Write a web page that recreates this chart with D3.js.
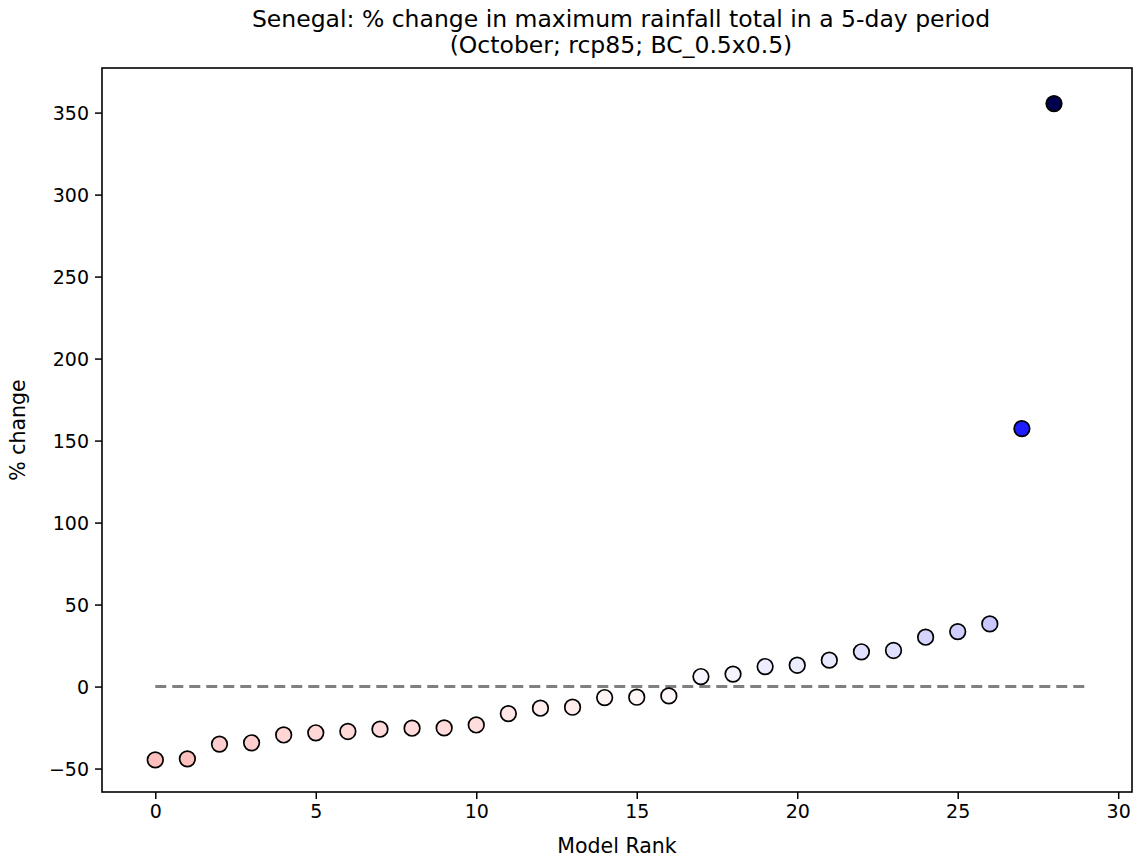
<!DOCTYPE html>
<html>
<head>
<meta charset="utf-8">
<script src="https://cdn.jsdelivr.net/npm/d3@7"></script>
<style>
body{margin:0;background:#fff;}
text{font-family:"DejaVu Sans",sans-serif;fill:#000;}
</style>
</head>
<body>
<svg id="chart" width="1135" height="861"></svg>
<script>
const titleLines = ["Senegal: % change in maximum rainfall total in a 5-day period", "(October; rcp85; BC_0.5x0.5)"];
const xLabel = "Model Rank";
const yLabel = "% change";
const ranks = d3.range(29);
const values = [-44.7, -44.1, -35.1, -34.3, -29.5, -28.2, -27.4, -26.0, -25.4, -25.2, -23.4,
  -16.5, -13.2, -12.6, -6.7, -6.5, -5.7, 6.1, 7.6, 12.2, 13.0, 16.1, 21.2, 22.0, 30.1, 33.5, 38.2, 157.3, 355.5];
const xTicks = [0, 5, 10, 15, 20, 25, 30];
const yTicks = [-50, 0, 50, 100, 150, 200, 250, 300, 350];
const zeroLine = [0, 29];

const svg = d3.select("#chart");
const L = 102, R = 1132, T = 68, B = 792;
const x = d3.scaleLinear().domain([-1.66, 30.43]).range([L, R]);
const y = d3.scaleLinear().domain([-64.3, 377.2]).range([B, T]);

// seismic_r colormap, symmetric about 0
const vmax = d3.max(values, v => Math.abs(v));
function seismicR(v) {
  const t = v / vmax; // -1..1 ; positive -> blue
  if (t >= 0) {
    if (t <= 0.5) { const f = t / 0.5; const c = 1 - f; return d3.rgb(255 * c, 255 * c, 255); }
    const f = (t - 0.5) / 0.5; return d3.rgb(0, 0, 255 * (1 - 0.7 * f));
  } else {
    const a = -t;
    if (a <= 0.5) { const f = a / 0.5; const c = 1 - f; return d3.rgb(255, 255 * c, 255 * c); }
    const f = (a - 0.5) / 0.5; return d3.rgb(255 * (1 - 0.5 * f), 0, 0);
  }
}

// Title
svg.append("text").attr("x", (L + R) / 2 + 4).attr("y", 27).attr("text-anchor", "middle")
  .style("font-size", "23.5px").text(titleLines[0]);
svg.append("text").attr("x", (L + R) / 2 + 4).attr("y", 53).attr("text-anchor", "middle")
  .style("font-size", "23.5px").text(titleLines[1]);

// zero line
svg.append("line")
  .attr("x1", x(zeroLine[0])).attr("x2", x(zeroLine[1]))
  .attr("y1", y(0)).attr("y2", y(0))
  .attr("stroke", "#808080").attr("stroke-width", 3).attr("stroke-dasharray", "11,6");

// points
svg.append("g").selectAll("circle").data(values).join("circle")
  .attr("cx", (d, i) => x(ranks[i])).attr("cy", d => y(d)).attr("r", 7.8)
  .attr("fill", d => seismicR(d)).attr("stroke", "#000").attr("stroke-width", 1.7);

// axes
const xAxis = d3.axisBottom(x).tickValues(xTicks).tickSize(7).tickPadding(6).tickFormat(d3.format("d"));
const yAxis = d3.axisLeft(y).tickValues(yTicks).tickSize(7).tickPadding(6)
  .tickFormat(d => d < 0 ? "\u2212" + Math.abs(d) : d);
const gx = svg.append("g").attr("transform", `translate(0,${B})`).call(xAxis);
const gy = svg.append("g").attr("transform", `translate(${L},0)`).call(yAxis);
[gx, gy].forEach(g => {
  g.select(".domain").remove();
  g.selectAll(".tick line").attr("stroke", "#000").attr("stroke-width", 1.5);
  g.selectAll(".tick text").style("font-size", "19px").style("font-family", "DejaVu Sans, sans-serif");
});
gy.selectAll(".tick text").attr("dy", "0.35em");

// frame
svg.append("rect").attr("x", L).attr("y", T).attr("width", R - L).attr("height", B - T)
  .attr("fill", "none").attr("stroke", "#000").attr("stroke-width", 1.6);

// axis labels
svg.append("text").attr("x", (L + R) / 2).attr("y", 853).attr("text-anchor", "middle")
  .style("font-size", "20.5px").text(xLabel);
svg.append("text").attr("transform", `translate(25,${(T + B) / 2}) rotate(-90)`)
  .attr("text-anchor", "middle").style("font-size", "20.5px").text(yLabel);
</script>
</body>
</html>
